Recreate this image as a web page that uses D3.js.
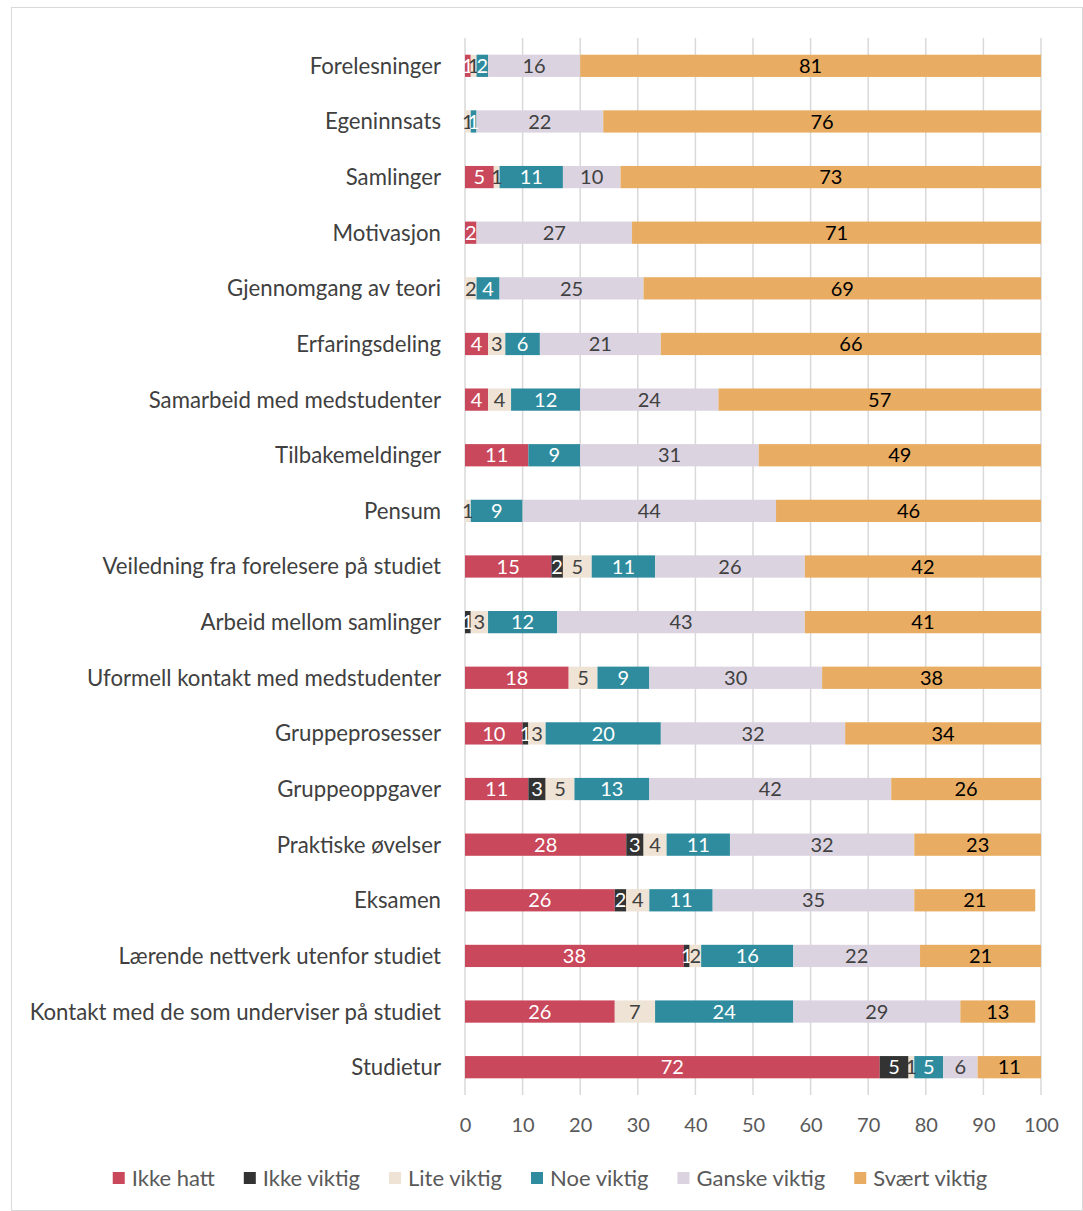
<!DOCTYPE html>
<html>
<head>
<meta charset="utf-8">
<script src="https://cdn.jsdelivr.net/npm/d3@7"></script>
<style>
  body { margin: 0; background: #fff; }
  svg { font-family: Lato, "Open Sans", sans-serif; }
</style>
</head>
<body>
<svg id="chart" width="1083" height="1211"></svg>
<script>
// categories, top to bottom
var categories = ["Forelesninger", "Egeninnsats", "Samlinger", "Motivasjon", "Gjennomgang av teori",
  "Erfaringsdeling", "Samarbeid med medstudenter", "Tilbakemeldinger", "Pensum",
  "Veiledning fra forelesere på studiet", "Arbeid mellom samlinger", "Uformell kontakt med medstudenter",
  "Gruppeprosesser", "Gruppeoppgaver", "Praktiske øvelser", "Eksamen",
  "Lærende nettverk utenfor studiet", "Kontakt med de som underviser på studiet", "Studietur"];

var seriesNames = ["Ikke hatt", "Ikke viktig", "Lite viktig", "Noe viktig", "Ganske viktig", "Svært viktig"];

var ikkeHatt    = [1, 0, 5, 2, 0, 4, 4, 11, 0, 15, 0, 18, 10, 11, 28, 26, 38, 26, 72];
var ikkeViktig  = [0, 0, 0, 0, 0, 0, 0, 0, 0, 2, 1, 0, 1, 3, 3, 2, 1, 0, 5];
var liteViktig  = [1, 1, 1, 0, 2, 3, 4, 0, 1, 5, 3, 5, 3, 5, 4, 4, 2, 7, 1];
var noeViktig   = [2, 1, 11, 0, 4, 6, 12, 9, 9, 11, 12, 9, 20, 13, 11, 11, 16, 24, 5];
var ganske      = [16, 22, 10, 27, 25, 21, 24, 31, 44, 26, 43, 30, 32, 42, 32, 35, 22, 29, 6];
var svaert      = [81, 76, 73, 71, 69, 66, 57, 49, 46, 42, 41, 38, 34, 26, 23, 21, 21, 13, 11];

var xTicks = [0, 10, 20, 30, 40, 50, 60, 70, 80, 90, 100];

var colors = ["#C9485B", "#333333", "#EEE3D5", "#2E8C9E", "#DBD3E0", "#E8AD62"];
var labelColors = ["#ffffff", "#ffffff", "#404040", "#ffffff", "#404040", "#000000"];

var seriesValues = [ikkeHatt, ikkeViktig, liteViktig, noeViktig, ganske, svaert];

var rows = categories.map(function (c, i) {
    var d = { name: c };
    seriesNames.forEach(function (s, j) { d[s] = seriesValues[j][i]; });
    return d;
});

var svg = d3.select("#chart");

// outer frame
svg.append("rect")
    .attr("x", 11.5).attr("y", 7.5)
    .attr("width", 1083 - 12).attr("height", 1211 - 8)
    .attr("fill", "none").attr("stroke", "#d9d9d9");

var plotLeft = 465, plotRight = 1041, plotTop = 38, plotBottom = 1095;

// rounded shares can add up to 101, the bars stop at the axis end
var x = d3.scaleLinear().domain([0, 100]).range([plotLeft, plotRight]).clamp(true);
var y = d3.scaleBand().domain(categories).range([plotTop, plotBottom]).paddingInner(0.6).paddingOuter(0.3);

// gridlines
svg.append("g")
    .selectAll("line")
    .data(xTicks)
    .enter().append("line")
    .attr("x1", function (d) { return x(d); })
    .attr("x2", function (d) { return x(d); })
    .attr("y1", plotTop).attr("y2", plotBottom)
    .attr("stroke", "#d9d9d9").attr("stroke-width", 1.5);

var stack = d3.stack().keys(seriesNames);
var layers = stack(rows);

var layer = svg.append("g")
    .selectAll("g")
    .data(layers)
    .enter().append("g")
    .attr("fill", function (d, i) { return colors[i]; });

layer.selectAll("rect")
    .data(function (d) { return d; })
    .enter().append("rect")
    .attr("x", function (d) { return x(d[0]); })
    .attr("width", function (d) { return x(d[1]) - x(d[0]); })
    .attr("y", function (d) { return y(d.data.name); })
    .attr("height", y.bandwidth());

// data labels
layers.forEach(function (l, i) {
    svg.append("g")
        .selectAll("text")
        .data(l.filter(function (d) { return d[1] - d[0] > 0; }))
        .enter().append("text")
        .attr("x", function (d) { return (x(d[0]) + x(d[1])) / 2; })
        .attr("y", function (d) { return y(d.data.name) + y.bandwidth() / 2; })
        .attr("dy", "0.36em")
        .attr("text-anchor", "middle")
        .attr("font-size", 20)
        .attr("fill", labelColors[i])
        .text(function (d) { return d[1] - d[0]; });
});

// category labels
svg.append("g")
    .selectAll("text")
    .data(categories)
    .enter().append("text")
    .attr("x", plotLeft - 24)
    .attr("y", function (d) { return y(d) + y.bandwidth() / 2; })
    .attr("dy", "0.36em")
    .attr("text-anchor", "end")
    .attr("font-size", 22.2)
    .attr("fill", "#404040")
    .text(function (d) { return d; });

// x axis labels
var xAxis = d3.axisBottom(x).tickValues(xTicks).tickSize(0).tickPadding(20);
var ax = svg.append("g")
    .attr("transform", "translate(0," + (plotBottom + 3) + ")")
    .call(xAxis);
ax.select(".domain").remove();
ax.selectAll("text")
    .attr("font-family", "Lato, 'Open Sans', sans-serif")
    .attr("font-size", 20)
    .attr("fill", "#595959");

// legend
var legend = svg.append("g").attr("transform", "translate(0,1178)");
var items = legend.selectAll("g")
    .data(seriesNames)
    .enter().append("g");
items.append("rect")
    .attr("width", 12).attr("height", 12)
    .attr("y", -6)
    .attr("fill", function (d, i) { return colors[i]; });
items.append("text")
    .attr("x", 19)
    .attr("dy", "0.36em")
    .attr("font-size", 22)
    .attr("fill", "#595959")
    .text(function (d) { return d; });

var pos = 0, gap = 29, widths = [];
items.each(function () { widths.push(this.getBBox().width); });
var total = d3.sum(widths) + gap * (widths.length - 1);
var startX = 550 - total / 2;
items.attr("transform", function (d, i) {
    var t = "translate(" + (startX + pos) + ",0)";
    pos += widths[i] + gap;
    return t;
});
</script>
</body>
</html>
